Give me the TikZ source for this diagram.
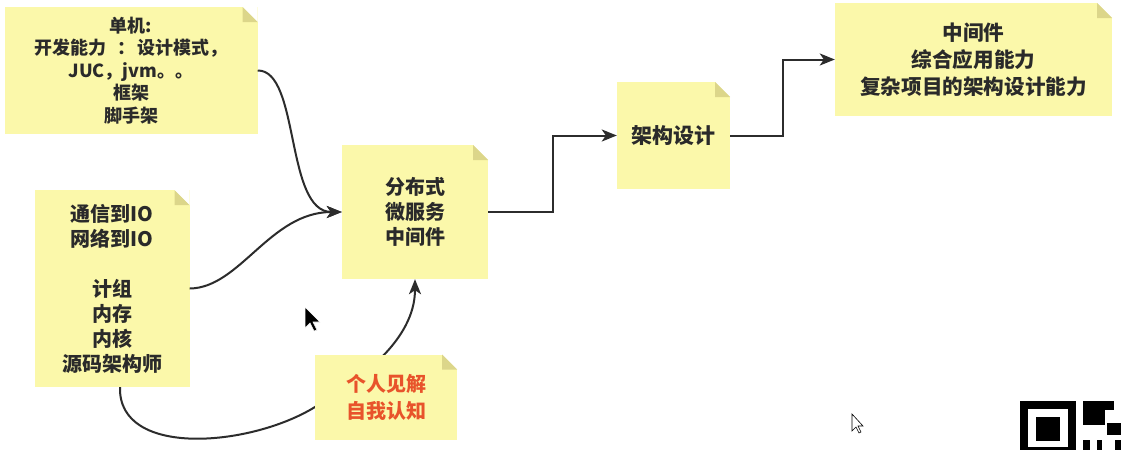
\documentclass[tikz,border=0pt]{standalone}
\usepackage{fontspec}
\newfontfamily\cjk{Noto Sans CJK SC}
\usetikzlibrary{arrows.meta}
\definecolor{notefill}{HTML}{FBF8AA}
\definecolor{notefold}{HTML}{DCD68A}
\definecolor{ink}{HTML}{2A2A2A}
\definecolor{linec}{HTML}{2C2C2C}
\definecolor{redtext}{HTML}{E8532B}
\begin{document}
\begin{tikzpicture}[x=1pt,y=-1pt,
  note/.style={fill=notefill, inner sep=0pt, align=center, text=ink,
    font={\cjk\bfseries\fontsize{20}{25}\selectfont},
    path picture={
      \fill[white] (path picture bounding box.north east) -- ++(-15pt,0pt) -- ++(15pt,-15pt) -- cycle;
      \fill[notefold] (path picture bounding box.north east) ++(-15pt,0pt) -- ++(0pt,-15pt) -- ++(15pt,0pt) -- cycle;
    }},
  conn/.style={draw=linec, line width=2pt, -{Stealth[length=15pt,width=12pt,inset=4pt]}}]
\useasboundingbox (0,0) rectangle (1121,450);
\fill[white] (0,0) rectangle (1121,450);

\node[note, minimum width=253pt, minimum height=127pt, font={\cjk\bfseries\fontsize{18}{22.5}\selectfont}] (n1) at (131,70.5)
  {单机:\\开发能力\hspace{0.6em}：\hspace{0.1em}设计模式，\\JUC，jvm。。\\框架\\脚手架};
\node[note, minimum width=155pt, minimum height=197pt] (n2) at (112,288.5)
  {通信到IO\\网络到IO\\\mbox{}\\计组\\内存\\内核\\源码架构师};
\node[note, minimum width=146pt, minimum height=134pt] (n3) at (415,212)
  {分布式\\微服务\\中间件};
\node[note, minimum width=113pt, minimum height=107pt, font={\cjk\bfseries\fontsize{21}{25}\selectfont}] (n5) at (673.5,135.5)
  {架构设计};
\node[note, minimum width=277pt, minimum height=113pt, font={\cjk\bfseries\fontsize{20.6}{27}\selectfont}] (n6) at (973.5,59.5)
  {中间件\\综合应用能力\\复杂项目的架构设计能力};

\draw[conn] (n1.east) .. controls (300,70) and (285,212) .. (n3.west);
\draw[conn] (n2.east) .. controls (240,288) and (270,212) .. (n3.west);
\draw[conn] (n3.east) -- ++(65,0) |- (n5.west);
\draw[conn] (n5.east) -- ++(53,0) |- (n6.west);
\draw[conn] ([xshift=8pt]n2.south) .. controls (118,458) and (250,447) .. (315,407)
  .. controls (360,380) and (415,340) .. (n3.south);

\node[note, minimum width=142pt, minimum height=85pt, text=redtext, font={\cjk\bfseries\fontsize{20}{27}\selectfont}] (n4) at (386,397)
  {个人见解\\自我认知};

% mouse pointers
\filldraw[fill=black, draw=white, line width=0.6pt] (305,307) -- (305,328) -- (310,323) -- (314,331) -- (317,330) -- (313,322) -- (320,322) -- cycle;
\filldraw[fill=white, draw=black, line width=0.6pt] (852,414) -- (852,431) -- (856,427) -- (859,433) -- (861,432) -- (858,426) -- (863,426) -- cycle;

% QR code fragment
\fill[black] (1020,401) rectangle (1076,450);
\fill[white] (1028,409) rectangle (1068,447);
\fill[black] (1036,417) rectangle (1060,441);
\fill[black] (1083,401) rectangle (1114,410);
\fill[black] (1083,410) rectangle (1105,425);
\fill[black] (1107,423) rectangle (1121,435);
\fill[black] (1083,440) rectangle (1090,450);
\fill[black] (1097,440) rectangle (1102,450);
\fill[black] (1115,440) rectangle (1121,450);
\end{tikzpicture}
\end{document}
